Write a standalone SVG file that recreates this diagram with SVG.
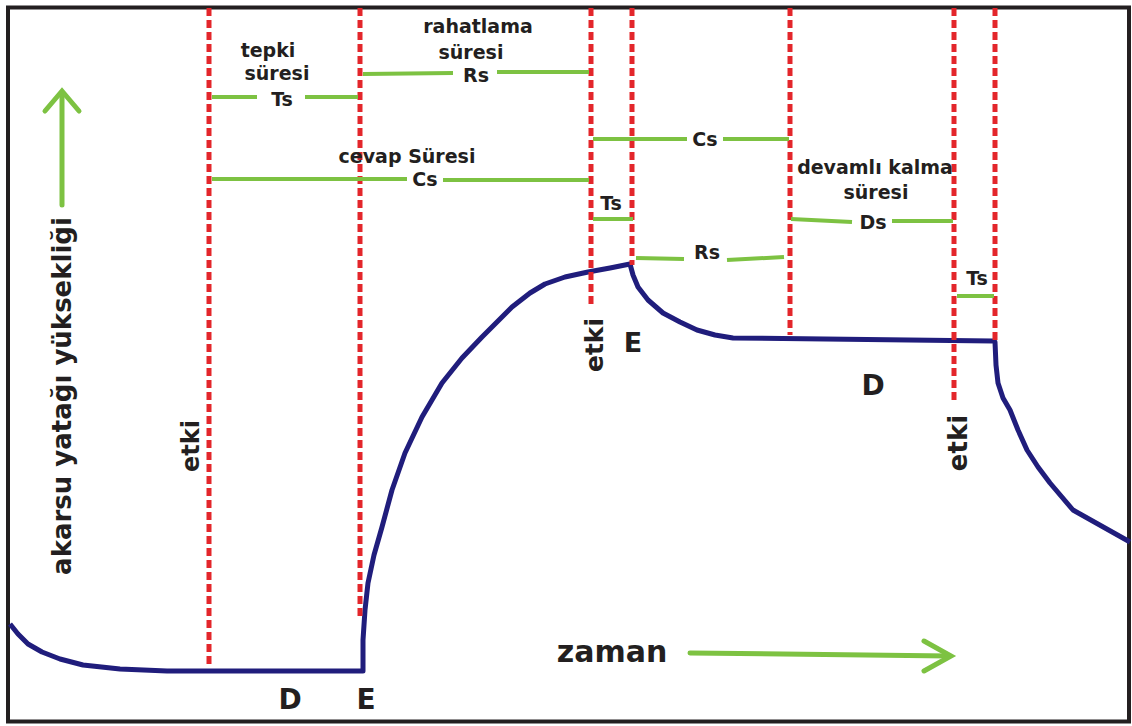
<svg xmlns="http://www.w3.org/2000/svg" width="1132" height="726" viewBox="0 0 1132 726">
<style>
.lbl{font-family:"DejaVu Sans","Liberation Sans",sans-serif;font-weight:bold;fill:#231f20;text-anchor:middle}
.s{font-size:19px}
.big{font-size:26px}
.red{stroke:#e3262b;stroke-width:5;stroke-dasharray:8 4;fill:none}
.grn{stroke:#7dc242;stroke-width:4;fill:none;stroke-linecap:butt}
.arr{stroke:#7dc242;stroke-width:5;fill:none;stroke-linecap:round;stroke-linejoin:miter}
.curve{stroke:#201d7c;stroke-width:5;fill:none;stroke-linejoin:round}
</style>
<rect x="0" y="0" width="1132" height="726" fill="#ffffff"/>
<rect id="frame" x="8" y="7.5" width="1121" height="714" fill="#ffffff" stroke="#231f20" stroke-width="4"/>

<g id="curve">
<path class="curve" d="M10,624 L18,634 L28,644 L42,652 L60,659 L83,665 L120,669 L167,671 L363,671 L363,640 L365,610 L368,583 L374,555 L382,527 L392,490 L405,453 L422,417 L442,383 L462,358 L482,337 L512,307 L530,293 L545,284 L565,277 L588,272 L610,268 L630,264 L633,275 L638,287 L648,300 L663,313 L680,322 L697,330 L715,335 L733,338 L993,341 L995,342 L996,365 L998,383 L1003,398 L1010,410 L1018,430 L1027,450 L1038,467 L1050,483 L1073,510 L1130,542"/>
</g>

<g id="markers">
<line class="red" x1="209" y1="8" x2="209" y2="668"/>
<line class="red" x1="360" y1="8" x2="360" y2="617"/>
<line class="red" x1="591" y1="8" x2="591" y2="308"/>
<line class="red" x1="632" y1="8" x2="632" y2="265"/>
<line class="red" x1="790" y1="8" x2="790" y2="335"/>
<line class="red" x1="954" y1="8" x2="954" y2="404"/>
<line class="red" x1="995" y1="8" x2="995" y2="340"/>
</g>

<g id="spans">
<line class="grn" x1="212" y1="97" x2="257" y2="97"/>
<line class="grn" x1="305" y1="97" x2="358" y2="97"/>
<line class="grn" x1="363" y1="74" x2="453" y2="73"/>
<line class="grn" x1="497" y1="72" x2="589" y2="72"/>
<line class="grn" x1="212" y1="179" x2="407" y2="179"/>
<line class="grn" x1="443" y1="180" x2="589" y2="180"/>
<line class="grn" x1="593" y1="139" x2="687" y2="139"/>
<line class="grn" x1="723" y1="139" x2="789" y2="139"/>
<line class="grn" x1="593" y1="219" x2="633" y2="219"/>
<line class="grn" x1="636" y1="258" x2="684" y2="259"/>
<line class="grn" x1="727" y1="260" x2="784" y2="257"/>
<line class="grn" x1="791" y1="219" x2="852" y2="222"/>
<line class="grn" x1="892" y1="221" x2="953" y2="221"/>
<line class="grn" x1="957" y1="296" x2="994" y2="296"/>
</g>

<g id="axis-y">
<line class="arr" x1="62" y1="205" x2="62" y2="93"/>
<polyline class="arr" points="45,111 62,91 79,111"/>
<text class="lbl big" transform="translate(71,396) rotate(-90)">akarsu yatağı yüksekliği</text>
</g>

<g id="axis-x">
<line class="arr" x1="690" y1="653" x2="949" y2="656"/>
<polyline class="arr" points="924,641 951,656 924,671"/>
<text class="lbl" style="font-size:30px" x="612" y="662">zaman</text>
</g>

<g id="labels-top">
<text class="lbl s" x="268" y="57">tepki</text>
<text class="lbl s" x="277" y="80">süresi</text>
<text class="lbl s" x="282" y="106">Ts</text>
<text class="lbl s" x="478" y="33">rahatlama</text>
<text class="lbl s" x="471" y="59">süresi</text>
<text class="lbl s" x="476" y="82">Rs</text>
<text class="lbl s" x="407" y="163">cevap Süresi</text>
<text class="lbl s" x="425" y="186">Cs</text>
<text class="lbl s" x="705" y="146">Cs</text>
<text class="lbl s" x="611" y="210">Ts</text>
<text class="lbl s" x="707" y="259">Rs</text>
<text class="lbl s" x="875" y="174">devamlı kalma</text>
<text class="lbl s" x="876" y="199">süresi</text>
<text class="lbl s" x="873" y="229">Ds</text>
<text class="lbl s" x="977" y="285">Ts</text>
</g>

<g id="labels-points">
<text class="lbl" style="font-size:24px" transform="translate(199,446) rotate(-90)">etki</text>
<text class="lbl" style="font-size:25px" transform="translate(603,345) rotate(-90)">etki</text>
<text class="lbl" style="font-size:26px" transform="translate(967,443) rotate(-90)">etki</text>
<text class="lbl" style="font-size:27px" x="633" y="352">E</text>
<text class="lbl" style="font-size:28px" x="290" y="709">D</text>
<text class="lbl" style="font-size:28px" x="366" y="709">E</text>
<text class="lbl" style="font-size:28px" x="873" y="395">D</text>
</g>
</svg>
